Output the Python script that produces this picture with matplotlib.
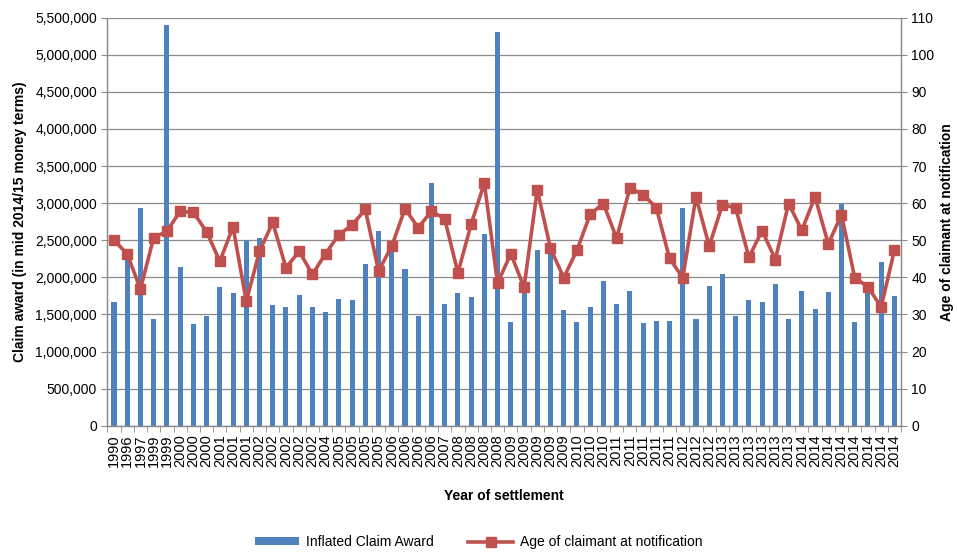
import matplotlib
matplotlib.use("Agg")
import matplotlib.pyplot as plt
from matplotlib.ticker import FuncFormatter, MultipleLocator, FixedLocator
from matplotlib.lines import Line2D
from matplotlib.patches import Patch
import numpy as np

plt.rcParams['font.family'] = ['Liberation Sans', 'DejaVu Sans']

years = (["1990", "1996", "1997"] + ["1999"] * 2 + ["2000"] * 3 + ["2001"] * 3 +
         ["2002"] * 5 + ["2004"] + ["2005"] * 4 + ["2006"] * 4 + ["2007"] +
         ["2008"] * 4 + ["2009"] * 5 + ["2010"] * 3 + ["2011"] * 5 +
         ["2012"] * 3 + ["2013"] * 6 + ["2014"] * 8)

claim_award = [
    1665000, 2290000, 2940000, 1436000, 5400000, 2145000, 1369000, 1472000,
    1876000, 1795000, 2500000, 2527000, 1625000, 1598000, 1760000, 1598000,
    1526000, 1706000, 1688000, 2186000, 2630000, 2400000, 2118000, 1481000,
    3276000, 1643000, 1795000, 1732000, 2590000, 5310000, 1396000, 1850000,
    2374000, 2340000, 1557000, 1400000, 1598000, 1952000, 1634000, 1822000,
    1382000, 1405000, 1405000, 2931000, 1441000, 1885000, 2047000, 1477000,
    1692000, 1665000, 1916000, 1436000, 1818000, 1571000, 1800000, 2994000,
    1396000, 1850000, 2204000, 1750000,
]

age = [
    50.0, 46.3, 36.8, 50.7, 52.4, 57.8, 57.5, 52.3, 44.3, 53.6,
    33.5, 47.0, 54.8, 42.6, 47.0, 40.8, 46.4, 51.5, 54.1, 58.3,
    41.7, 48.4, 58.5, 53.4, 57.8, 55.8, 41.2, 54.3, 65.4, 38.4,
    46.4, 37.3, 63.6, 47.8, 39.9, 47.3, 57.0, 59.9, 50.5, 64.1,
    62.3, 58.8, 45.1, 39.9, 61.7, 48.4, 59.6, 58.7, 45.4, 52.6,
    44.8, 59.9, 52.7, 61.7, 49.0, 56.9, 39.9, 37.4, 32.0, 47.3,
]

bar_color = "#4F81BD"
line_color = "#C0504D"
grid_color = "#8C8C8C"

fig = plt.figure(figsize=(9.57, 5.52), dpi=100)
ax = fig.add_axes([0.1122, 0.2288, 0.8293, 0.7392])
ax2 = ax.twinx()

x = np.arange(len(years))
ax.bar(x, claim_award, width=0.38, color=bar_color, zorder=2)
ax2.plot(x, age, color=line_color, lw=2.6, marker="s", markersize=7,
         markerfacecolor=line_color, markeredgecolor=line_color, zorder=3)

ax.set_xlim(-0.5, len(years) - 0.5)
ax.set_ylim(0, 5500000)
ax2.set_ylim(0, 110)
ax.yaxis.set_major_locator(MultipleLocator(500000))
ax2.yaxis.set_major_locator(MultipleLocator(10))
ax.yaxis.set_major_formatter(FuncFormatter(lambda v, p: f"{int(v):,}"))

ax.set_xticks(x)
ax.set_xticklabels(years, rotation=90, fontsize=10.5)
ax.xaxis.set_minor_locator(FixedLocator(np.arange(-0.5, len(years), 1.0)))
ax.tick_params(axis="x", which="major", length=0, pad=6)
ax.tick_params(axis="x", which="minor", length=4, color=grid_color, direction="out")
ax.tick_params(axis="y", labelsize=10, length=4, color=grid_color)
ax2.tick_params(axis="y", labelsize=10, length=4, color=grid_color)

ax.grid(axis="y", color=grid_color, lw=0.9, zorder=0)
ax.set_axisbelow(True)
for a in (ax, ax2):
    a.spines["top"].set_visible(False)
    for s in ("left", "right", "bottom"):
        a.spines[s].set_color(grid_color)
        a.spines[s].set_linewidth(0.9)

ax.set_ylabel("Claim award (in mid 2014/15 money terms)", fontsize=10,
              fontweight="bold", labelpad=6)
ax2.set_ylabel("Age of claimant at notification", fontsize=10,
               fontweight="bold", labelpad=4)
ax.set_xlabel("Year of settlement", fontsize=10, fontweight="bold", labelpad=16)

handles = [Patch(facecolor=bar_color, edgecolor="none"),
           Line2D([0], [0], color=line_color, lw=2.6, marker="s", markersize=7)]
fig.legend(handles, ["Inflated Claim Award", "Age of claimant at notification"],
           loc="center", bbox_to_anchor=(0.5, 0.018), ncol=2, frameon=False,
           fontsize=10, handlelength=3.2, columnspacing=2.5, handleheight=0.5,
           handletextpad=0.5)

fig.savefig("out.png", dpi=100)
